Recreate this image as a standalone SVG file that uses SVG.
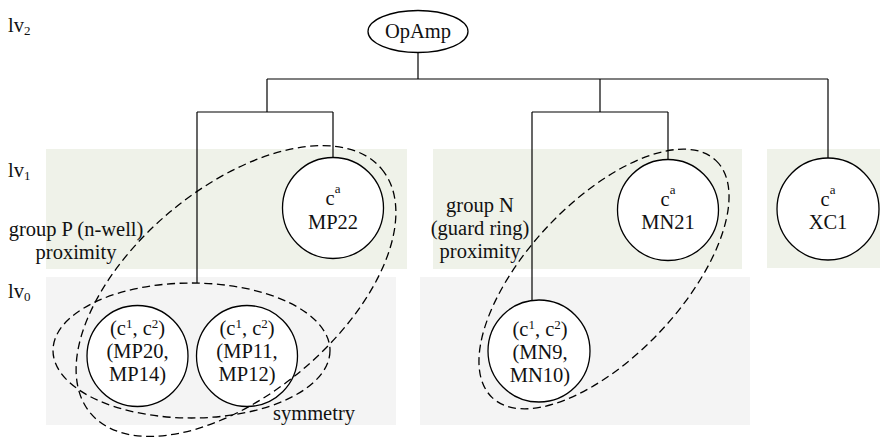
<svg xmlns="http://www.w3.org/2000/svg" width="889" height="437" viewBox="0 0 889 437" font-family="'Liberation Serif', 'Times New Roman', Times, serif">
  <style>
    text { font-family: 'Liberation Serif', 'Times New Roman', Times, serif; font-size: 20.5px; fill: #111; }
    .mid { text-anchor: middle; }
    .sub { font-size: 13px; }
    .sup { font-size: 13px; }
    .band1 { fill: #eff2e9; }
    .band0 { fill: #f4f4f4; }
    .node { fill: #fff; stroke: #000; stroke-width: 1.3; }
    .wire { fill: none; stroke: #000; stroke-width: 1.2; }
    .group { fill: none; stroke: #000; stroke-width: 1.3; stroke-dasharray: 8 4.5; }
  </style>

  <!-- level bands -->
  <g id="bands">
    <rect class="band1" x="46" y="149" width="361" height="120"/>
    <rect class="band1" x="433" y="149" width="309" height="120"/>
    <rect class="band1" x="767" y="149" width="113" height="119"/>
    <rect class="band0" x="46" y="277" width="350" height="148"/>
    <rect class="band0" x="420" y="277" width="330" height="148"/>
  </g>

  <!-- level labels -->
  <g id="levels">
    <text x="8" y="32">lv<tspan class="sub" dy="3">2</tspan></text>
    <text x="8" y="177">lv<tspan class="sub" dy="3">1</tspan></text>
    <text x="8" y="298">lv<tspan class="sub" dy="3">0</tspan></text>
  </g>

  <!-- hierarchy connectors -->
  <g id="connectors" class="wire">
    <path d="M418 52.5 V79"/>
    <path d="M267 79 H828"/>
    <path d="M267 79 V112"/>
    <path d="M197 112 H333"/>
    <path d="M197 112 V283"/>
    <path d="M333 112 V157.5"/>
    <path d="M600 79 V112"/>
    <path d="M532 112 H668"/>
    <path d="M532 112 V300"/>
    <path d="M668 112 V159.5"/>
    <path d="M828 79 V158"/>
  </g>

  <!-- nodes -->
  <g id="opamp">
    <ellipse class="node" cx="418" cy="31.5" rx="50" ry="21"/>
    <text class="mid" x="418" y="38">OpAmp</text>
  </g>

  <g id="mp22">
    <circle class="node" cx="333" cy="208" r="50.5"/>
    <text class="mid" x="333" y="205">c<tspan class="sup" dy="-12">a</tspan></text>
    <text class="mid" x="333" y="229">MP22</text>
  </g>

  <g id="mn21">
    <circle class="node" cx="668" cy="210" r="50.5"/>
    <text class="mid" x="668" y="206">c<tspan class="sup" dy="-12">a</tspan></text>
    <text class="mid" x="668" y="229">MN21</text>
  </g>

  <g id="xc1">
    <circle class="node" cx="828" cy="209" r="51"/>
    <text class="mid" x="828" y="206">c<tspan class="sup" dy="-12">a</tspan></text>
    <text class="mid" x="828" y="229">XC1</text>
  </g>

  <g id="mp20-mp14">
    <circle class="node" cx="137.5" cy="356" r="50.5"/>
    <text class="mid" x="137.5" y="335">(c<tspan class="sup" dy="-7">1</tspan><tspan dy="7">, c</tspan><tspan class="sup" dy="-7">2</tspan><tspan dy="7">)</tspan></text>
    <text class="mid" x="137.5" y="358">(MP20,</text>
    <text class="mid" x="137.5" y="381">MP14)</text>
  </g>

  <g id="mp11-mp12">
    <circle class="node" cx="247" cy="356" r="50.5"/>
    <text class="mid" x="247" y="335">(c<tspan class="sup" dy="-7">1</tspan><tspan dy="7">, c</tspan><tspan class="sup" dy="-7">2</tspan><tspan dy="7">)</tspan></text>
    <text class="mid" x="247" y="358">(MP11,</text>
    <text class="mid" x="247" y="381">MP12)</text>
  </g>

  <g id="mn9-mn10">
    <circle class="node" cx="539" cy="351" r="51"/>
    <text class="mid" x="540" y="336">(c<tspan class="sup" dy="-7">1</tspan><tspan dy="7">, c</tspan><tspan class="sup" dy="-7">2</tspan><tspan dy="7">)</tspan></text>
    <text class="mid" x="540" y="359">(MN9,</text>
    <text class="mid" x="540" y="382">MN10)</text>
  </g>

  <!-- constraint groups -->
  <g id="constraints">
    <ellipse class="group" cx="191.5" cy="350.5" rx="138.5" ry="67.5"/>
    <ellipse class="group" cx="236" cy="291" rx="190" ry="103" transform="rotate(-40 236 291)"/>
    <ellipse class="group" cx="604" cy="279" rx="163" ry="77" transform="rotate(-46.7 604 279)"/>
  </g>

  <g id="constraint-labels">
    <text class="mid" x="76" y="236">group P (n-well)</text>
    <text class="mid" x="76" y="259">proximity</text>
    <text class="mid" x="480" y="212">group N</text>
    <text class="mid" x="480" y="235">(guard ring)</text>
    <text class="mid" x="480" y="258">proximity</text>
    <text x="273" y="420">symmetry</text>
  </g>
</svg>
